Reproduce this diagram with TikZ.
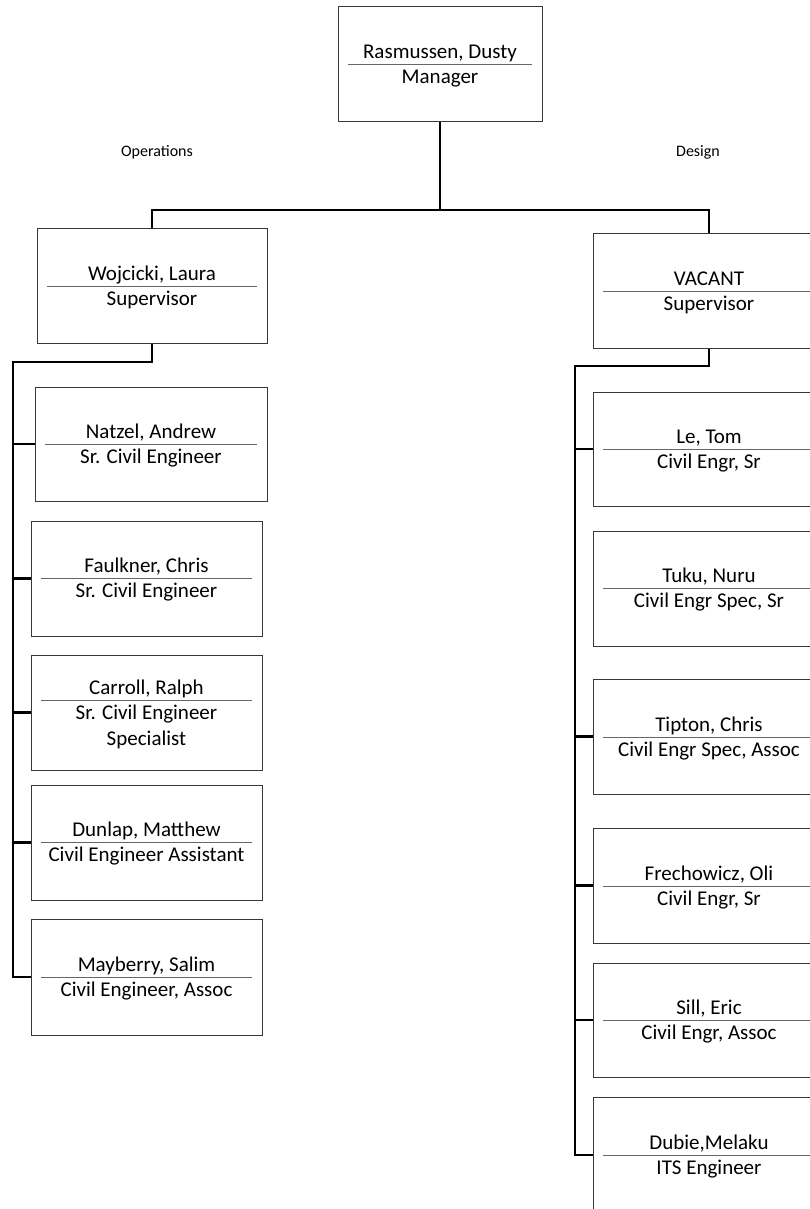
\documentclass[tikz,border=0pt]{standalone}
\usepackage{fontspec}
\setmainfont{Carlito}
\begin{document}
\begin{tikzpicture}[x=1pt,y=-1pt,
  orgbox/.style={draw=black!78, line width=1pt, fill=white, inner sep=0pt},
  divline/.style={draw=black!60, line width=1pt},
  nametext/.style={font=\fontsize{21}{25}\selectfont, anchor=base, inner sep=0pt},
  titletext/.style={font=\fontsize{21}{25}\selectfont, anchor=base, inner sep=0pt},
  grouptext/.style={font=\fontsize{16}{19}\selectfont, inner sep=0pt},
  conn/.style={draw=black, line width=2.3pt, line join=miter}]
\useasboundingbox (0,0) rectangle (810,1209);
\clip (0,0) rectangle (810,1209);
\fill[white] (0,0) rectangle (810,1209);

% #1 name, #2 x1, #3 y1, #4 x2, #5 y2, #6 divider y, #7 person, #8 title
\newcommand{\orgunit}[8]{%
  \node[orgbox, minimum width={#4-#2}, minimum height={#5-#3}] (#1) at ({(#2+#4)/2},{(#3+#5)/2}) {};
  \draw[divline] ({#2+10},#6) -- ({#4-10},#6);
  \node[nametext] (#1-name) at ({(#2+#4)/2},{#6-6}) {#7};
  \node[titletext] (#1-title) at ({(#2+#4)/2},{#6+19}) {#8};
}

% connectors first (boxes drawn over them)
\coordinate (bus) at (440,210);
\coordinate (lt) at (13,362);
\coordinate (rt) at (575,366);

\orgunit{mgr}{338}{7}{542}{122}{65}{Rasmussen, Dusty}{Manager}
\orgunit{woj}{37}{228}{267}{343}{286}{Wojcicki, Laura}{Supervisor}
\orgunit{vac}{593}{233}{825}{348}{291}{VACANT}{Supervisor}

\orgunit{natz}{35}{387}{267}{501}{444}{Natzel, Andrew}{Sr. Civil Engineer}
\orgunit{faul}{31}{521}{262}{636}{578}{Faulkner, Chris}{Sr. Civil Engineer}
\orgunit{carr}{31}{655}{262}{770}{700}{Carroll, Ralph}{Sr. Civil Engineer}
\node[titletext] (carr-title2) at (146.5,745) {Specialist};
\orgunit{dunl}{31}{785}{262}{900}{842}{Dunlap, Matthew}{Civil Engineer Assistant}
\orgunit{mayb}{31}{919}{262}{1035}{977}{Mayberry, Salim}{Civil Engineer, Assoc}

\orgunit{le}{593}{392}{825}{506}{449}{Le, Tom}{Civil Engr, Sr}
\orgunit{tuku}{593}{531}{825}{646}{588}{Tuku, Nuru}{Civil Engr Spec, Sr}
\orgunit{tipt}{593}{679}{825}{794}{737}{Tipton, Chris}{Civil Engr Spec, Assoc}
\orgunit{frec}{593}{828}{825}{943}{886}{Frechowicz, Oli}{Civil Engr, Sr}
\orgunit{sill}{593}{963}{825}{1077}{1020}{Sill, Eric}{Civil Engr, Assoc}
\orgunit{dubi}{593}{1097}{825}{1213}{1155}{Dubie,Melaku}{ITS Engineer}

\node[grouptext] (ops) at (157,152) {Operations};
\node[grouptext] (des) at (698,152) {Design};

% top level
\draw[conn] (mgr.south) -- (bus);
\draw[conn] (woj.north) |- (bus) -| (vac.north);

% operations
\draw[conn] (woj.south) |- (lt) |- (mayb.west);
\draw[conn] (natz.west) -- (natz.west -| lt);
\draw[conn] (faul.west) -- (faul.west -| lt);
\draw[conn] (carr.west) -- (carr.west -| lt);
\draw[conn] (dunl.west) -- (dunl.west -| lt);

% design
\draw[conn] (vac.south) |- (rt) |- (dubi.west);
\draw[conn] (le.west) -- (le.west -| rt);
\draw[conn] (tipt.west) -- (tipt.west -| rt);
\draw[conn] (frec.west) -- (frec.west -| rt);
\draw[conn] (sill.west) -- (sill.west -| rt);
\end{tikzpicture}
\end{document}
